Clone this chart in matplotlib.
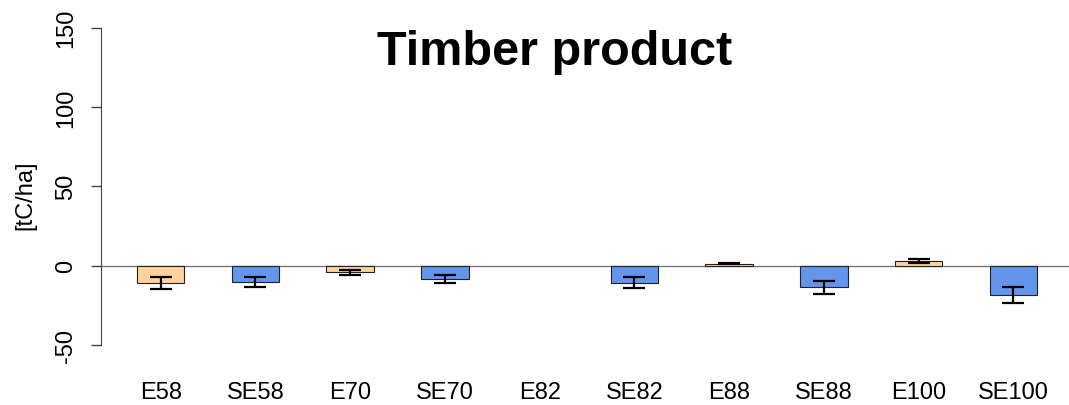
import numpy as np
import matplotlib
matplotlib.use("Agg")
import matplotlib.pyplot as plt

plt.rcParams['font.family'] = ['Liberation Sans', 'DejaVu Sans']

# stand types and timber product carbon difference [tC/ha]
stands = ["E58", "SE58", "E70", "SE70", "E82", "SE82", "E88", "SE88", "E100", "SE100"]
means = [-11.0, -10.2, -4.3, -8.3, np.nan, -10.8, 1.1, -13.7, 2.8, -18.4]
errors = [3.6, 3.3, 1.5, 2.6, np.nan, 3.4, 0.3, 3.9, 1.3, 5.2]
colors = ["#FFD39B", "#6495ED"] * 5

yticks = [-50, 0, 50, 100, 150]

fig = plt.figure(figsize=(10.69, 4.06), dpi=100)
ax = fig.add_axes([101 / 1069, 47.3 / 406, 972 / 1069, 342.9 / 406])

# bar centers like R barplot(space=1): 1.5, 3.5, ...
x = np.arange(len(stands)) * 2 + 1.5
ax.bar(x, means, width=1.0, color=colors, edgecolor="#222222", linewidth=0.8, zorder=2)
ax.errorbar(x, means, yerr=errors, fmt="none", ecolor="black", elinewidth=1.6,
            capsize=11 * 0.72, capthick=1.6, zorder=3)
ax.axhline(0, color="#777777", linewidth=1.0, zorder=1)

ax.set_xlim(1 - 0.76, 20 + 0.76)
ax.set_ylim(-58, 158)

for s in ["top", "right", "bottom"]:
    ax.spines[s].set_visible(False)
ax.spines["left"].set_bounds(-50, 150)
ax.spines["left"].set_color("#444444")

ax.set_yticks(yticks)
ax.set_yticklabels([str(t) for t in yticks], rotation=90, va="center", fontsize=17)
ax.tick_params(axis="y", length=7.2, width=1.0, color="#444444", pad=10)

ax.set_xticks(x)
ax.set_xticklabels(stands, fontsize=17)
ax.tick_params(axis="x", length=0, pad=17)

fig.text(25 / 1069, 1 - 195 / 406, "[tC/ha]", rotation=90, ha="center", va="center", fontsize=17)
fig.text(555 / 1069, 1 - 65 / 406, "Timber product", ha="center", va="baseline",
         fontsize=35, fontweight="bold")

fig.savefig("out.png", dpi=100)
